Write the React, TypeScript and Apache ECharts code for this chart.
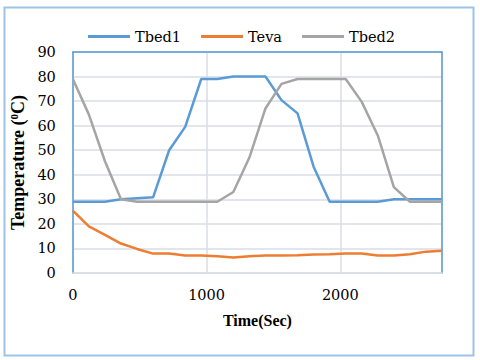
import React, { useEffect, useRef } from "react";
import * as echarts from "echarts";

const times = [0, 120, 240, 360, 480, 600, 720, 840, 960, 1080, 1200, 1320, 1440, 1560, 1680, 1800, 1920, 2040, 2160, 2280, 2400, 2520, 2640, 2760];
const tbed1 = [29, 29, 29, 30, 30.4, 30.8, 50, 59.5, 79, 79, 80, 80, 80, 70.4, 65, 43.3, 29, 29, 29, 29, 30, 30, 30, 30];
const teva = [25.4, 19, 15.5, 12, 9.8, 7.9, 7.9, 7.1, 7.1, 6.8, 6.3, 6.8, 7.1, 7.1, 7.2, 7.5, 7.6, 7.9, 7.9, 7.1, 7.1, 7.6, 8.7, 9.1];
const tbed2 = [79, 64.5, 45.5, 30, 29, 29, 29, 29, 29, 29, 33, 47, 67, 77, 79, 79, 79, 79, 69.7, 56, 35, 29, 29, 29];
const seriesNames = ["Tbed1", "Teva", "Tbed2"];
const colors = ["#5b9bd5", "#ed7d31", "#a5a5a5"];

const BOLD_FONT = "Liberation Serif";
const FONT = "DejaVu Serif";
const FS = 14.5;

export default function App() {
  const ref = useRef<HTMLDivElement>(null);
  useEffect(() => {
    document.body.style.margin = "0";
    if (!ref.current) return;
    const chart = echarts.init(ref.current, undefined, { renderer: "svg" });
    const all = [tbed1, teva, tbed2];
    const axisCommon = { min: 0, max: 2760 };
    chart.setOption({
      animation: false,
      backgroundColor: "#ffffff",
      textStyle: { fontFamily: FONT },
      graphic: [
        {
          type: "rect",
          shape: { x: 4.5, y: 7.5, width: 469, height: 348 },
          style: { fill: "none", stroke: "#9dc3e6", lineWidth: 2 },
          z: 100,
        },
      ],
      legend: {
        left: 83,
        top: 24,
        itemWidth: 42,
        itemHeight: 3,
        itemGap: 20,
        icon: "rect",
        textStyle: { fontFamily: FONT, fontSize: FS, color: "#000" },
        data: seriesNames,
      },
      grid: { left: 67, right: 38, top: 52, bottom: 87, containLabel: false },
      xAxis: [
        {
          type: "value",
          ...axisCommon,
          interval: 1000,
          name: "Time(Sec)",
          nameLocation: "middle",
          nameGap: 39,
          nameTextStyle: { fontFamily: BOLD_FONT, fontSize: 16, fontWeight: "bold", color: "#000" },
          axisLine: { show: true, lineStyle: { color: "#d9dde4", width: 1.5 } },
          axisTick: { show: false },
          axisLabel: {
            fontFamily: FONT,
            fontSize: FS,
            color: "#000",
            margin: 14,
            showMaxLabel: false,
            formatter: (v: number) => String(v),
          },
          splitLine: { show: true, lineStyle: { color: "#d9dde4", width: 1.5 } },
        },
        {
          type: "value",
          ...axisCommon,
          position: "top",
          axisLine: { show: true, onZero: false, lineStyle: { color: "#5b9bd5", width: 1.5 } },
          axisTick: { show: false },
          axisLabel: { show: false },
          splitLine: { show: false },
        },
      ],
      yAxis: [
        {
          type: "value",
          min: 0,
          max: 90,
          interval: 10,
          name: "Temperature ({sup|0}C)",
          nameLocation: "middle",
          nameGap: 37,
          nameTextStyle: {
            fontFamily: BOLD_FONT,
            fontSize: 18,
            fontWeight: "bold",
            color: "#000",
            rich: {
              sup: { fontFamily: BOLD_FONT, fontSize: 11, fontWeight: "bold", color: "#000", padding: [0, 0, 8, 0] },
            },
          },
          axisLine: { show: true, lineStyle: { color: "#5b9bd5", width: 1.5 } },
          axisTick: { show: false },
          axisLabel: { fontFamily: FONT, fontSize: FS, color: "#000", margin: 17 },
          splitLine: { show: true, lineStyle: { color: "#d9dde4", width: 1.5 } },
        },
        {
          type: "value",
          min: 0,
          max: 90,
          position: "right",
          axisLine: { show: true, onZero: false, lineStyle: { color: "#5b9bd5", width: 1.5 } },
          axisTick: { show: false },
          axisLabel: { show: false },
          splitLine: { show: false },
        },
      ],
      series: seriesNames.map((name, i) => ({
        name,
        type: "line",
        xAxisIndex: 0,
        yAxisIndex: 0,
        data: times.map((t, j) => [t, all[i][j]]),
        showSymbol: false,
        symbol: "none",
        lineStyle: { color: colors[i], width: 2.5 },
        itemStyle: { color: colors[i] },
      })),
    });
    return () => chart.dispose();
  }, []);
  return <div ref={ref} style={{ width: 480, height: 360 }} />;
}
